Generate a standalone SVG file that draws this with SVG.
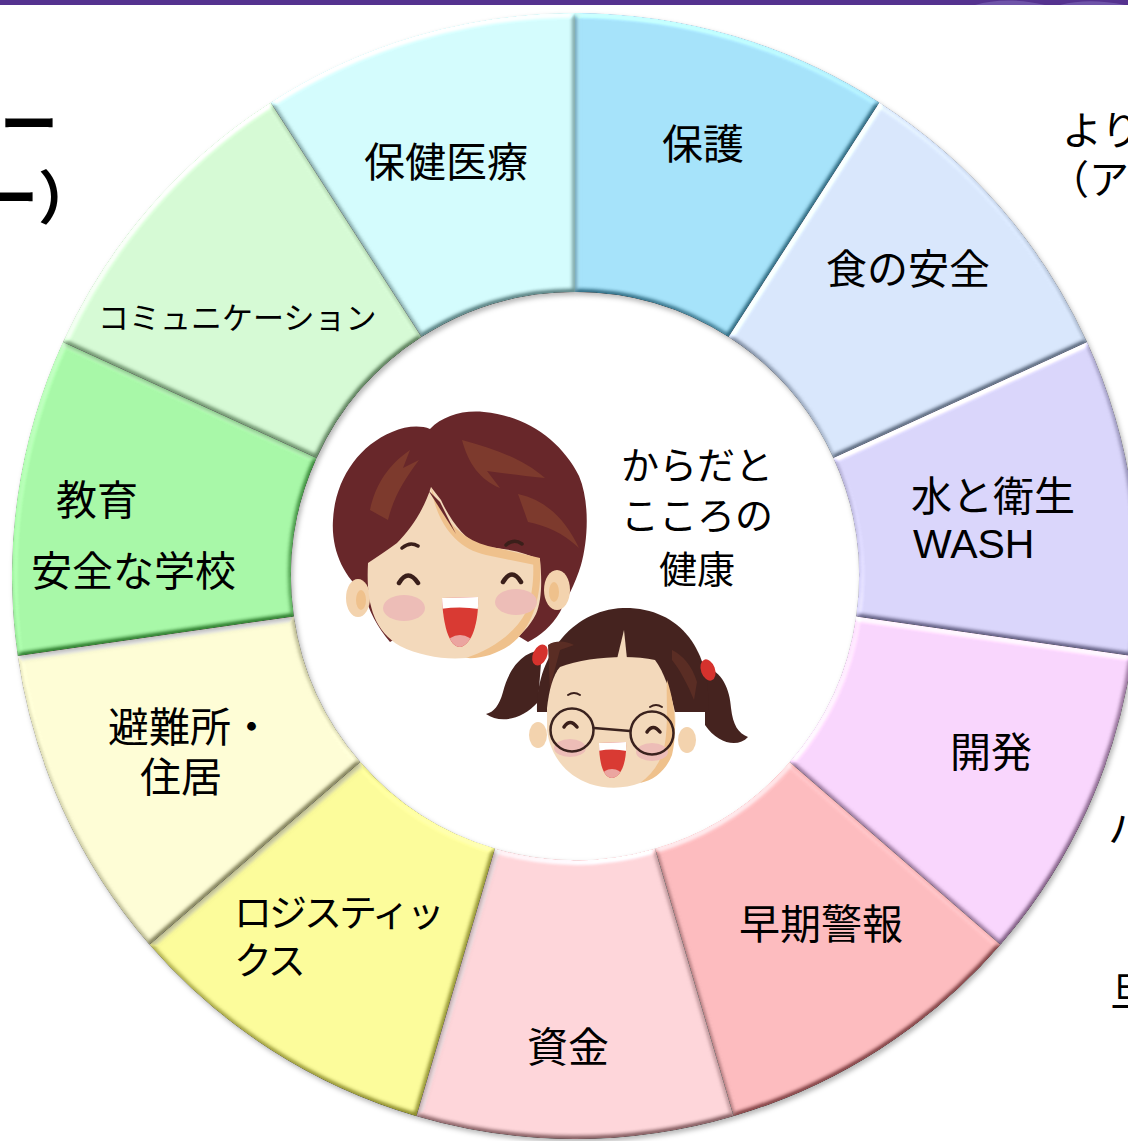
<svg xmlns="http://www.w3.org/2000/svg" width="1128" height="1141" viewBox="0 0 1128 1141">
  <defs>
    <style>
      .lbl { font-family: "Noto Sans CJK JP", sans-serif; font-size: 41px; fill: #000; }
      .lbl-kana { font-family: "Noto Sans CJK JP", sans-serif; font-size: 38px; letter-spacing: -3px; fill: #000; }
      .lbl-small { font-family: "Noto Sans CJK JP", sans-serif; font-size: 31px; fill: #000; }
      .lbl-hub { font-family: "Noto Sans CJK JP", sans-serif; font-size: 38px; fill: #000; text-anchor: middle; }
      .lat { font-family: "Liberation Sans", "Noto Sans CJK JP", sans-serif; font-size: 41px; fill: #000; }
      .frag { font-family: "Noto Sans CJK JP", sans-serif; font-size: 40px; fill: #000; }
      .frag-big { font-family: "Noto Sans CJK JP", sans-serif; font-size: 58px; font-weight: 700; fill: #000; }
      .seg { filter: url(#bevel); }
      .eye { fill: none; stroke: #3a1f1a; stroke-linecap: round; }
    </style>
    <!-- raised pastel tile: soft bevel lit from the upper left, plus a drop shadow -->
    <filter id="bevel" x="-10%" y="-10%" width="125%" height="125%" color-interpolation-filters="sRGB">
      <feGaussianBlur in="SourceAlpha" stdDeviation="2.5" result="b"/>
      <feDiffuseLighting in="b" surfaceScale="4" diffuseConstant="1" lighting-color="#ffffff" result="L">
        <feDistantLight azimuth="245" elevation="45"/>
      </feDiffuseLighting>
      <feComposite in="SourceGraphic" in2="L" operator="arithmetic" k1="0" k2="1" k3="0.6" k4="-0.424" result="lit"/>
      <feComposite in="lit" in2="SourceAlpha" operator="in" result="bev"/>
      <feGaussianBlur in="SourceAlpha" stdDeviation="2.5" result="sb"/>
      <feOffset in="sb" dx="2" dy="3" result="so"/>
      <feFlood flood-color="#000" flood-opacity="0.28"/>
      <feComposite in2="so" operator="in" result="sh"/>
      <feMerge><feMergeNode in="sh"/><feMergeNode in="bev"/></feMerge>
    </filter>
    <clipPath id="boyMouth"><path d="M442,598 L478,597 C479,622 472,645 460,647 C449,647 443,625 442,598 Z"/></clipPath>
    <clipPath id="girlMouth"><path d="M599,743 L626,742 C627,760 622,777 612,778 C603,778 599,762 599,743 Z"/></clipPath>
  </defs>

  <rect width="1128" height="1141" fill="#ffffff"/>

  <!-- header bar -->
  <g id="header">
    <rect x="0" y="0" width="1128" height="5" fill="#55328f"/>
    <path d="M975,5 C995,-1 1020,-1 1045,5 Z M1060,5 C1080,0 1100,0 1125,5 Z" fill="#7b62b4" opacity="0.7"/>
  </g>

  <!-- cut-off slide text around the wheel -->
  <g id="side-text">
    <text class="frag-big" x="0" y="145">ー</text>
    <text class="frag-big" x="-20" y="219">ー）</text>
    <text class="frag" x="1062" y="145">より</text>
    <text class="frag" x="1049" y="194">（ア</text>
    <text class="frag" x="1108" y="843">ハ</text>
    <text class="frag" x="1110" y="1006">旦</text>
  </g>

  <!-- eleven sectors, clockwise from the top; centre (575,576), radii 563 / 284 -->
  <g id="seg-protection">
    <path class="seg" fill="#a6e3fa" d="M575,292 L575,13 A563,563 0 0 1 879.4,102.4 L728.5,337.1 A284,284 0 0 0 575,292 Z"/>
    <text class="lbl" x="703" y="159" text-anchor="middle">保護</text>
  </g>
  <g id="seg-food">
    <path class="seg" fill="#d9e7fc" d="M728.5,337.1 L879.4,102.4 A563,563 0 0 1 1087.1,342.1 L833.3,458 A284,284 0 0 0 728.5,337.1 Z"/>
    <text class="lbl" x="908" y="284" text-anchor="middle">食の安全</text>
  </g>
  <g id="seg-wash">
    <path class="seg" fill="#dad6fb" d="M833.3,458 L1087.1,342.1 A563,563 0 0 1 1132.3,656.1 L856.1,616.4 A284,284 0 0 0 833.3,458 Z"/>
    <text class="lbl" x="911" y="511">水と衛生</text>
    <text class="lat" x="913" y="558">WASH</text>
  </g>
  <g id="seg-development">
    <path class="seg" fill="#f9d6fd" d="M856.1,616.4 L1132.3,656.1 A563,563 0 0 1 1000.5,944.7 L789.6,762 A284,284 0 0 0 856.1,616.4 Z"/>
    <text class="lbl" x="991" y="767" text-anchor="middle">開発</text>
  </g>
  <g id="seg-early-warning">
    <path class="seg" fill="#fdbcbf" d="M789.6,762 L1000.5,944.7 A563,563 0 0 1 733.6,1116.2 L655,848.5 A284,284 0 0 0 789.6,762 Z"/>
    <text class="lbl" x="821" y="939" text-anchor="middle">早期警報</text>
  </g>
  <g id="seg-funding">
    <path class="seg" fill="#fed6da" d="M655,848.5 L733.6,1116.2 A563,563 0 0 1 416.4,1116.2 L495,848.5 A284,284 0 0 0 655,848.5 Z"/>
    <text class="lbl" x="568" y="1062" text-anchor="middle">資金</text>
  </g>
  <g id="seg-logistics">
    <path class="seg" fill="#fcfc9b" d="M495,848.5 L416.4,1116.2 A563,563 0 0 1 149.5,944.7 L360.4,762 A284,284 0 0 0 495,848.5 Z"/>
    <text class="lbl-kana" x="234" y="926">ロジスティッ</text>
    <text class="lbl-kana" x="234" y="974">クス</text>
  </g>
  <g id="seg-shelter">
    <path class="seg" fill="#fefdd6" d="M360.4,762 L149.5,944.7 A563,563 0 0 1 17.7,656.1 L293.9,616.4 A284,284 0 0 0 360.4,762 Z"/>
    <text class="lbl" x="108" y="742">避難所・</text>
    <text class="lbl" x="140" y="792">住居</text>
  </g>
  <g id="seg-education">
    <path class="seg" fill="#a8f8a8" d="M293.9,616.4 L17.7,656.1 A563,563 0 0 1 62.9,342.1 L316.7,458 A284,284 0 0 0 293.9,616.4 Z"/>
    <text class="lbl" x="56" y="515">教育</text>
    <text class="lbl" x="31" y="586">安全な学校</text>
  </g>
  <g id="seg-health">
    <path class="seg" fill="#d4fcfd" d="M421.5,337.1 L270.6,102.4 A563,563 0 0 1 575,13 L575,292 A284,284 0 0 0 421.5,337.1 Z"/>
    <text class="lbl" x="446" y="177" text-anchor="middle">保健医療</text>
  </g>
  <g id="seg-communication">
    <path class="seg" fill="#d6fad5" d="M316.7,458 L62.9,342.1 A563,563 0 0 1 270.6,102.4 L421.5,337.1 A284,284 0 0 0 316.7,458 Z"/>
    <text class="lbl-small" x="98" y="329">コミュニケーション</text>
  </g>

  <!-- hub: two smiling children and the centre caption -->
  <g id="hub">
    <g id="boy">
      <path fill="#68272a" d="M390,642 C378,628 368,610 364,592 C344,578 331,550 333,520 C335,480 358,446 392,432 C406,426 420,425 430,429 C443,416 462,410 484,412 C528,416 562,442 579,476 C590,502 588,540 581,565 C575,585 566,600 560,612 C552,626 540,636 528,642 L460,600 Z"/>
      <path fill="#7d3a2d" d="M370,510 C376,482 390,464 410,450 L403,468 L419,460 C404,480 394,496 388,520 Z"/>
      <path fill="#7d3a2d" d="M462,440 C492,448 522,458 545,478 C522,476 503,473 487,471 L500,488 C480,480 468,463 462,440 Z"/>
      <path fill="#7d3a2d" d="M518,494 C546,500 566,520 579,548 C562,532 546,526 528,522 Z"/>
      <ellipse cx="358" cy="598" rx="12" ry="19" fill="#f3d3ae"/>
      <ellipse cx="361" cy="600" rx="5" ry="10" fill="#efc18c"/>
      <ellipse cx="557" cy="590" rx="13" ry="20" fill="#f3d3ae"/>
      <ellipse cx="554" cy="592" rx="5" ry="10" fill="#efc18c"/>
      <path fill="#f3d9bb" d="M368,563 C366,600 372,630 400,646 C420,656 445,660 466,658 C498,655 524,638 536,614 C542,600 542,580 540,560 C525,552 505,548 482,547 C465,540 450,520 441,500 L431,487 C424,510 410,530 397,543 C388,550 378,556 368,563 Z"/>
      <path fill="#efc18c" d="M431,487 C440,515 458,538 488,546 L540,558 L540,566 L486,555 C454,548 436,520 431,487 Z"/>
      <path fill="#efc18c" d="M540,560 C542,592 535,626 510,645 C495,655 480,659 466,658 C490,650 514,635 526,612 C533,595 534,575 533,560 Z"/>
      <path fill="#68272a" d="M428,490 L456,534 L440,502 Z"/>
      <path class="eye" stroke-width="3.5" d="M402,548 Q410,541 418,546 M506,545 Q514,538 522,544"/>
      <path class="eye" stroke-width="4.5" d="M399,583 Q408,568 418,583 M503,582 Q512,567 521,582"/>
      <ellipse cx="404" cy="608" rx="21" ry="13" fill="#edbdb7"/>
      <ellipse cx="516" cy="602" rx="21" ry="13" fill="#edbdb7"/>
      <path fill="#d93a33" d="M442,598 L478,597 C479,622 472,645 460,647 C449,647 443,625 442,598 Z"/>
      <g clip-path="url(#boyMouth)">
        <path fill="#ffffff" d="M440,596 L480,596 L479,609 C466,607 453,607 441,609 Z"/>
        <ellipse cx="460" cy="644" rx="13" ry="9" fill="#eba5a0"/>
      </g>
    </g>
    <g id="girl">
      <path fill="#45231f" d="M542,650 C520,652 508,672 503,692 C499,706 494,712 486,714 C500,724 522,720 538,702 Z"/>
      <path fill="#45231f" d="M705,668 C722,670 730,690 731,708 C733,725 738,733 748,737 C738,748 718,744 705,725 Z"/>
      <path fill="#45231f" d="M537,712 C535,660 570,610 623,608 C680,607 712,650 708,712 Z"/>
      <path fill="#5a2d24" d="M548,645 C556,640 566,641 574,645 L560,650 C556,665 552,678 550,690 Z"/>
      <path fill="#5a2d24" d="M672,650 C682,655 692,665 697,682 L694,700 C688,685 680,670 672,660 Z"/>
      <ellipse cx="540" cy="655" rx="7" ry="11" fill="#d5322d" transform="rotate(25 540 655)"/>
      <ellipse cx="708" cy="670" rx="7" ry="11" fill="#d5322d" transform="rotate(-20 708 670)"/>
      <ellipse cx="538" cy="735" rx="9" ry="13" fill="#f3d3ae"/>
      <ellipse cx="687" cy="740" rx="9" ry="13" fill="#f3d3ae"/>
      <path fill="#f3d9bb" d="M547,708 C549,690 553,675 560,667 C585,657 630,654 655,660 C664,672 670,690 675,712 C678,745 665,773 640,783 C625,789 605,789 590,784 C565,775 550,755 547,730 Z"/>
      <path fill="#efc18c" d="M667,680 C674,700 678,730 672,755 C666,770 655,780 640,783 C655,772 664,758 666,735 C668,715 666,695 667,680 Z"/>
      <path fill="#f3d9bb" d="M624,630 L627,659 L617,659 Z"/>
      <path class="eye" stroke-width="2" d="M568,695 Q574,691 580,695 M650,707 Q656,703 662,707"/>
      <path class="eye" stroke-width="3.5" d="M564,727 Q570,718 577,727 M647,732 Q653,723 660,732"/>
      <ellipse cx="570" cy="748" rx="16" ry="9" fill="#edbdb7"/>
      <ellipse cx="652" cy="752" rx="16" ry="9" fill="#edbdb7"/>
      <path fill="#d93a33" d="M599,743 L626,742 C627,760 622,777 612,778 C603,778 599,762 599,743 Z"/>
      <g clip-path="url(#girlMouth)">
        <path fill="#ffffff" d="M597,741 L628,741 L627,751 C617,749 607,749 598,751 Z"/>
        <ellipse cx="612" cy="776" rx="10" ry="7" fill="#eba5a0"/>
      </g>
      <g fill="none" stroke="#3a221e" stroke-width="2.5">
        <circle cx="572" cy="730" r="21.5"/>
        <circle cx="652" cy="733" r="21.5"/>
        <path d="M594,728 L630,731"/>
      </g>
    </g>
    <g id="caption">
      <text class="lbl-hub" x="697" y="479">からだと</text>
      <text class="lbl-hub" x="697" y="529">こころの</text>
      <text class="lbl-hub" x="697" y="583">健康</text>
    </g>
  </g>
</svg>
